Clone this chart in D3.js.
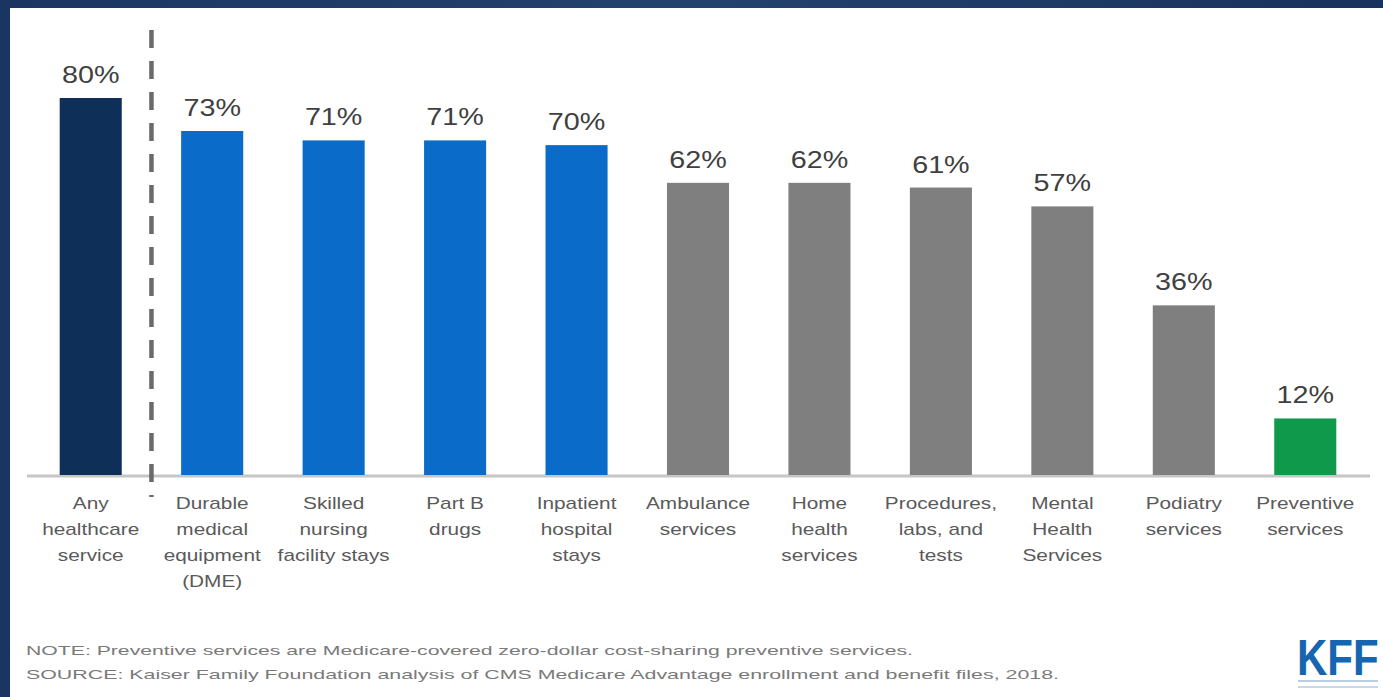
<!DOCTYPE html>
<html>
<head>
<meta charset="utf-8">
<script src="https://d3js.org/d3.v7.min.js"></script>
<style>
  body { margin: 0; background: #1b3660; }
  svg { display: block; }
  .pct { font-family: "Liberation Sans", Arial, sans-serif; font-size: 23px; fill: #404040; }
  .cat { font-family: "Liberation Sans", Arial, sans-serif; font-size: 16px; fill: #5a5a5a; }
  .note { font-family: "Liberation Sans", Arial, sans-serif; font-size: 13px; fill: #7a7a7a; }
</style>
</head>
<body>
<svg width="1383" height="697"></svg>
<script>
var categories = [
  ["Any", "healthcare", "service"],
  ["Durable", "medical", "equipment", "(DME)"],
  ["Skilled", "nursing", "facility stays"],
  ["Part B", "drugs"],
  ["Inpatient", "hospital", "stays"],
  ["Ambulance", "services"],
  ["Home", "health", "services"],
  ["Procedures,", "labs, and", "tests"],
  ["Mental", "Health", "Services"],
  ["Podiatry", "services"],
  ["Preventive", "services"]
];
var values = [80, 73, 71, 71, 70, 62, 62, 61, 57, 36, 12];
var groups = ["any", "blue", "blue", "blue", "blue", "gray", "gray", "gray", "gray", "gray", "green"];
var notes = [
  "NOTE: Preventive services are Medicare-covered zero-dollar cost-sharing preventive services.",
  "SOURCE: Kaiser Family Foundation analysis of CMS Medicare Advantage enrollment and benefit files, 2018."
];

var colors = {any: "#0e2f57", blue: "#0a6cc8", gray: "#7f7f7f", green: "#0f9a4b"};

var svg = d3.select("svg");

// dark frame with white panel
var bg = svg.append("defs").append("linearGradient").attr("id", "bg")
    .attr("x1", 0).attr("x2", 1).attr("y1", 0).attr("y2", 0);
bg.append("stop").attr("offset", 0).attr("stop-color", "#1a3561");
bg.append("stop").attr("offset", 0.5).attr("stop-color", "#24426e");
bg.append("stop").attr("offset", 1).attr("stop-color", "#17325d");
svg.append("rect").attr("width", 1383).attr("height", 697).attr("fill", "url(#bg)");
svg.append("rect").attr("x", 10).attr("y", 8).attr("width", 1373).attr("height", 689).attr("fill", "#ffffff");

var x = d3.scaleBand()
    .domain(d3.range(values.length))
    .range([30, 1366])
    .paddingInner(0.489)
    .paddingOuter(0.2445);

var y = d3.scaleLinear().domain([0, 80]).range([475, 98]);

// baseline
svg.append("line")
    .attr("x1", 27).attr("x2", 1370)
    .attr("y1", y(0) + 1).attr("y2", y(0) + 1)
    .attr("stroke", "#c6c6c6").attr("stroke-width", 3);

svg.selectAll("rect.bar")
    .data(values)
    .enter().append("rect")
    .attr("class", "bar")
    .attr("x", function(d, i) { return x(i); })
    .attr("y", function(d) { return y(d); })
    .attr("width", x.bandwidth())
    .attr("height", function(d) { return y(0) - y(d); })
    .attr("fill", function(d, i) { return colors[groups[i]]; });

// text in the picture is stretched sideways
var stretch = 1.25;

svg.selectAll("text.pct")
    .data(values)
    .enter().append("text")
    .attr("class", "pct")
    .attr("transform", function(d, i) {
      return "translate(" + (x(i) + x.bandwidth() / 2) + "," + (y(d) - 15) + ") scale(" + stretch + ",1)";
    })
    .attr("text-anchor", "middle")
    .text(function(d) { return d + "%"; });

// dashed separator between first bar and the rest
var sepX = (x(0) + x.bandwidth() + x(1)) / 2;
svg.append("line")
    .attr("x1", sepX).attr("x2", sepX)
    .attr("y1", 30).attr("y2", 497)
    .attr("stroke", "#6a6a6a").attr("stroke-width", 4.5)
    .attr("stroke-dasharray", "18,13");

var cat = svg.selectAll("text.cat")
    .data(categories)
    .enter().append("text")
    .attr("class", "cat")
    .attr("text-anchor", "middle")
    .attr("transform", function(d, i) {
      return "translate(" + (x(i) + x.bandwidth() / 2) + ",509) scale(1.3,1)";
    });

cat.selectAll("tspan")
    .data(function(d) { return d; })
    .enter().append("tspan")
    .attr("x", 0)
    .attr("dy", function(d, i) { return i === 0 ? 0 : 26; })
    .text(function(d) { return d; });

svg.selectAll("text.note")
    .data(notes)
    .enter().append("text")
    .attr("class", "note")
    .attr("x", 26)
    .attr("y", function(d, i) { return 655 + i * 24; })
    .attr("textLength", function(d, i) { return i === 0 ? 887 : 1033; })
    .attr("lengthAdjust", "spacingAndGlyphs")
    .text(function(d) { return d; });

// KFF logo
svg.append("text")
    .attr("transform", "translate(1297,675) scale(1,1.2)")
    .attr("font-family", "Liberation Sans, Arial, sans-serif")
    .attr("font-weight", "bold")
    .attr("font-size", 42)
    .attr("fill", "#1565b0")
    .text("KFF");
svg.append("rect").attr("x", 1298).attr("y", 680).attr("width", 80).attr("height", 2).attr("fill", "#b9cde3");
svg.append("rect").attr("x", 1298).attr("y", 686).attr("width", 80).attr("height", 2).attr("fill", "#c9d7e8");
</script>
</body>
</html>
